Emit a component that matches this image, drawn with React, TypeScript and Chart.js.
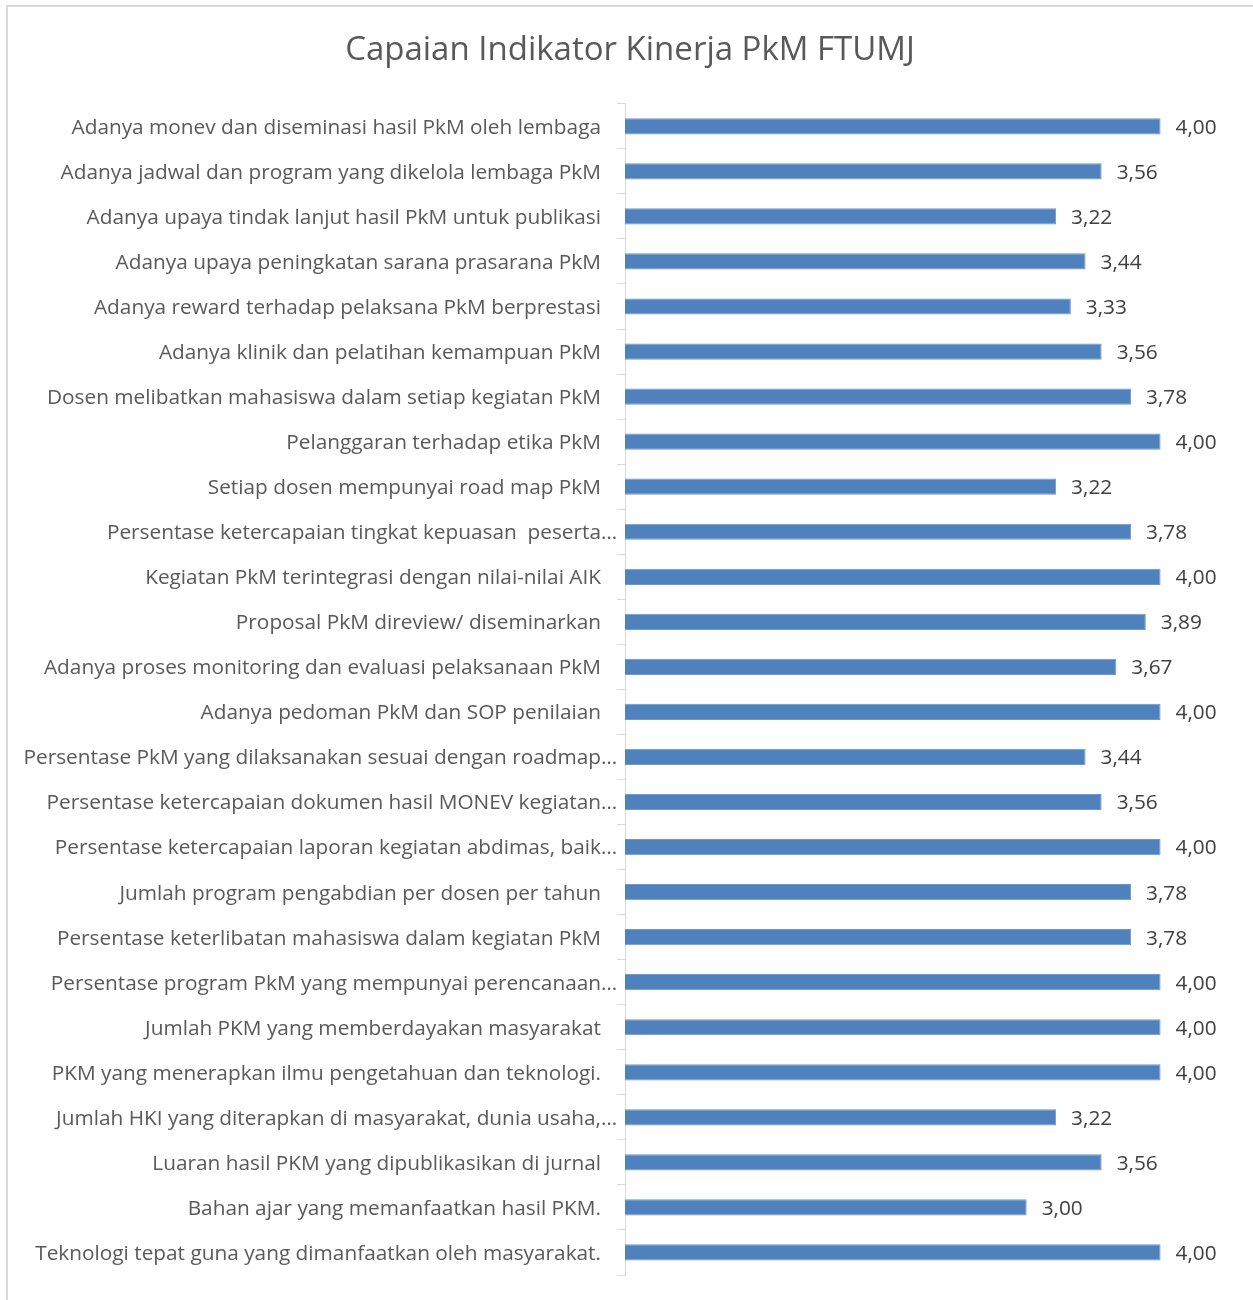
import React, { useEffect, useRef } from "react";
import { Chart, registerables } from "chart.js";

Chart.register(...registerables);

const TITLE = "Capaian Indikator Kinerja PkM FTUMJ";

const categories: string[] = [
  "Adanya monev dan diseminasi hasil PkM oleh lembaga",
  "Adanya jadwal dan program yang dikelola lembaga PkM",
  "Adanya upaya tindak lanjut hasil PkM untuk publikasi",
  "Adanya upaya peningkatan sarana prasarana PkM",
  "Adanya reward terhadap pelaksana PkM berprestasi",
  "Adanya klinik dan pelatihan kemampuan PkM",
  "Dosen melibatkan mahasiswa dalam setiap kegiatan PkM",
  "Pelanggaran terhadap etika PkM",
  "Setiap dosen mempunyai road map PkM",
  "Persentase ketercapaian tingkat kepuasan  peserta…",
  "Kegiatan PkM terintegrasi dengan nilai-nilai AIK",
  "Proposal PkM direview/ diseminarkan",
  "Adanya proses monitoring dan evaluasi pelaksanaan PkM",
  "Adanya pedoman PkM dan SOP penilaian",
  "Persentase PkM yang dilaksanakan sesuai dengan roadmap…",
  "Persentase ketercapaian dokumen hasil MONEV kegiatan…",
  "Persentase ketercapaian laporan kegiatan abdimas, baik…",
  "Jumlah program pengabdian per dosen per tahun",
  "Persentase keterlibatan mahasiswa dalam kegiatan PkM",
  "Persentase program PkM yang mempunyai perencanaan…",
  "Jumlah PKM yang memberdayakan masyarakat",
  "PKM yang menerapkan ilmu pengetahuan dan teknologi.",
  "Jumlah HKI yang diterapkan di masyarakat, dunia usaha,…",
  "Luaran hasil PKM yang dipublikasikan di jurnal",
  "Bahan ajar yang memanfaatkan hasil PKM.",
  "Teknologi tepat guna yang dimanfaatkan oleh masyarakat.",
];

const values: number[] = [
  4.0, 3.56, 3.22, 3.44, 3.33, 3.56, 3.78, 4.0, 3.22, 3.78, 4.0, 3.89, 3.67,
  4.0, 3.44, 3.56, 4.0, 3.78, 3.78, 4.0, 4.0, 4.0, 3.22, 3.56, 3.0, 4.0,
];

const FONT = "'Open Sans', 'Noto Sans', sans-serif";
const TEXT_COLOR = "#595959";
const LABEL_SIZE = 20.8;

// Category labels drawn at the y scale's tick positions (Excel lets the
// trailing ellipsis of truncated labels overflow past the label edge).
const categoryLabelPlugin = {
  id: "categoryLabels",
  afterDraw(chart: any) {
    const ctx = chart.ctx;
    const yScale = chart.scales.y;
    const right = chart.chartArea.left - 24;
    ctx.save();
    ctx.font = `${LABEL_SIZE}px ${FONT}`;
    ctx.fillStyle = TEXT_COLOR;
    ctx.textAlign = "right";
    ctx.textBaseline = "middle";
    const ell = ctx.measureText("…").width;
    (chart.data.labels as string[]).forEach((lab: string, i: number) => {
      const y = yScale.getPixelForTick(i);
      const x = lab.endsWith("…") ? right + ell : right;
      ctx.fillText(lab, x, y + 1.5);
    });
    ctx.restore();
  },
};

const dataLabelPlugin = {
  id: "dataLabels",
  afterDatasetsDraw(chart: any) {
    const ctx = chart.ctx;
    const meta = chart.getDatasetMeta(0);
    ctx.save();
    ctx.font = `${LABEL_SIZE}px ${FONT}`;
    ctx.fillStyle = "#404040";
    ctx.textAlign = "left";
    ctx.textBaseline = "middle";
    meta.data.forEach((bar: any, i: number) => {
      const v = chart.data.datasets[0].data[i] as number;
      ctx.fillText(v.toFixed(2).replace(".", ","), bar.x + 15, bar.y + 1.5);
    });
    ctx.restore();
  },
};

export default function App() {
  const canvasRef = useRef<HTMLCanvasElement | null>(null);

  useEffect(() => {
    if (!canvasRef.current) return;
    const chart = new Chart(canvasRef.current, {
      type: "bar",
      data: {
        labels: categories,
        datasets: [
          {
            data: values,
            backgroundColor: "#4f81bd",
            borderColor: "#6e98cc",
            borderWidth: 1,
            barPercentage: 0.36,
            categoryPercentage: 1,
          },
        ],
      },
      options: {
        indexAxis: "y",
        responsive: false,
        animation: false,
        layout: { padding: { left: 32.5, right: 25.5, top: 0, bottom: 25 } },
        plugins: {
          legend: { display: false },
          tooltip: { enabled: false },
          title: {
            display: true,
            text: TITLE,
            color: TEXT_COLOR,
            font: { family: FONT, size: 33, weight: "normal" },
            padding: { top: 30.5, bottom: 33.7 },
          },
        },
        scales: {
          x: { min: 0, max: 4.5, display: false },
          y: {
            offset: true,
            grid: {
              display: true,
              drawOnChartArea: false,
              drawTicks: true,
              tickLength: 8,
              color: "#d9d9d9",
              offset: true,
            },
            border: { display: true, color: "#d9d9d9", width: 1 },
            ticks: {
              display: false,
              autoSkip: false,
            },
            afterFit: (scale: any) => {
              scale.width = 592.5;
              scale.paddingTop = 0;
              scale.paddingBottom = 0;
            },
          },
        },
      },
      plugins: [dataLabelPlugin, categoryLabelPlugin],
    });
    return () => chart.destroy();
  }, []);

  return (
    <div
      style={{
        position: "absolute",
        left: 0,
        top: 0,
        width: 1253,
        height: 1300,
        overflow: "hidden",
        background: "#ffffff",
      }}
    >
      <div
        style={{
          position: "absolute",
          left: 6,
          top: 5,
          width: 1300,
          height: 1400,
          border: "2px solid #d9d9d9",
          boxSizing: "border-box",
        }}
      />
      <canvas
        ref={canvasRef}
        width={1253}
        height={1300}
        style={{ position: "absolute", left: 0, top: 0, width: 1253, height: 1300 }}
      />
    </div>
  );
}
